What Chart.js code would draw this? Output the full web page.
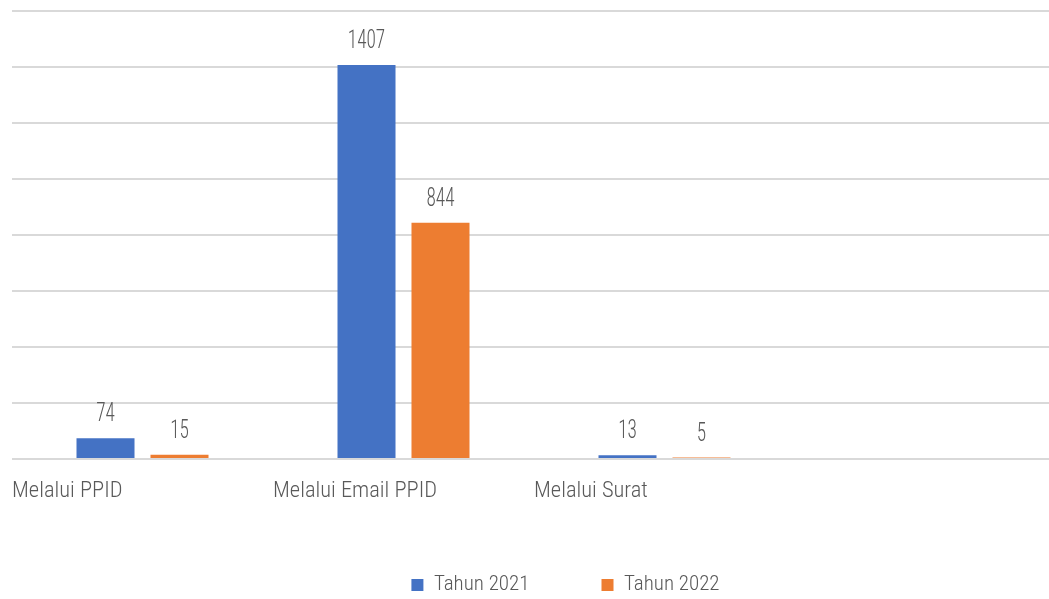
<!DOCTYPE html>
<html>
<head>
<meta charset="utf-8">
<script src="https://cdn.jsdelivr.net/npm/chart.js@4"></script>
<style>
  html, body { margin: 0; padding: 0; background: #fff; overflow: hidden; }
  #wrap { width: 1056px; height: 599px; }
</style>
</head>
<body>
<div id="wrap"><canvas id="chart_channel"></canvas></div>
<script>
// kategori (kolom ke-4 kosong seperti di gambar asli)
const labels_channel = ["Melalui PPID", "Melalui Email PPID", "Melalui Surat", ""];
const data_2021 = [74, 1407, 13, null];
const data_2022 = [15, 844, 5, null];
const series_names = ["Tahun 2021", "Tahun 2022"];

const font_family = "Roboto, 'Open Sans', sans-serif";
const font_weight = "300 condensed"; // light + condensed
const text_color = "#595959";

// label angka di atas batang (huruf dipersempit)
const barValueLabels = {
  id: "barValueLabels",
  afterDatasetsDraw(chart) {
    const ctx = chart.ctx;
    chart.data.datasets.forEach((ds, i) => {
      const meta = chart.getDatasetMeta(i);
      meta.data.forEach((bar, j) => {
        if (ds.data[j] == null) return;
        ctx.save();
        ctx.font = font_weight + " 26px " + font_family;
        ctx.fillStyle = text_color;
        ctx.textAlign = "center";
        ctx.textBaseline = "alphabetic";
        ctx.translate(bar.x, bar.y - 17);
        ctx.scale(0.74, 1);
        ctx.fillText(ds.data[j], 0, 0);
        ctx.restore();
      });
    });
  }
};

// legenda agak ke kanan seperti di Excel
const legendShift = {
  id: "legendShift",
  afterLayout(chart) {
    chart.legend.left += 31.5;
    chart.legend.right += 31.5;
  }
};

const config_channel = {
  type: "bar",
  data: {
    labels: labels_channel,
    datasets: [
      {
        label: series_names[0],
        data: data_2021,
        backgroundColor: "#4472c4",
        barPercentage: 0.784,
        categoryPercentage: 0.567,
      },
      {
        label: series_names[1],
        data: data_2022,
        backgroundColor: "#ed7d31",
        barPercentage: 0.784,
        categoryPercentage: 0.567,
      },
    ],
  },
  options: {
    responsive: true,
    maintainAspectRatio: false,
    animation: false,
    layout: {
      padding: { left: 12, right: 0, top: 11, bottom: 0 },
    },
    scales: {
      x: {
        // tickLength dipakai sebagai jarak label (padding dihitung 2x oleh Chart.js)
        grid: { display: false, tickLength: 21 },
        border: { display: false },
        ticks: {
          align: "start",
          labelOffset: -130.5,
          padding: 0,
          maxRotation: 0,
          minRotation: 0,
          autoSkip: false,
          color: text_color,
          font: { family: font_family, size: 22.5, weight: font_weight, lineHeight: 1 },
        },
      },
      y: {
        min: 0,
        max: 1600,
        ticks: { display: false, stepSize: 200 },
        border: { display: false },
        grid: { color: "#d9d9d9", lineWidth: 2, drawTicks: false },
      },
    },
    plugins: {
      legend: {
        position: "bottom",
        maxHeight: 96.5,
        labels: {
          boxWidth: 12,
          boxHeight: 12,
          padding: 72,
          color: text_color,
          font: { family: font_family, size: 21, weight: font_weight },
        },
      },
      tooltip: { enabled: false },
    },
  },
  plugins: [barValueLabels, legendShift],
};

const chart_channel = new Chart(
  document.getElementById("chart_channel"),
  config_channel
);
</script>
</body>
</html>
